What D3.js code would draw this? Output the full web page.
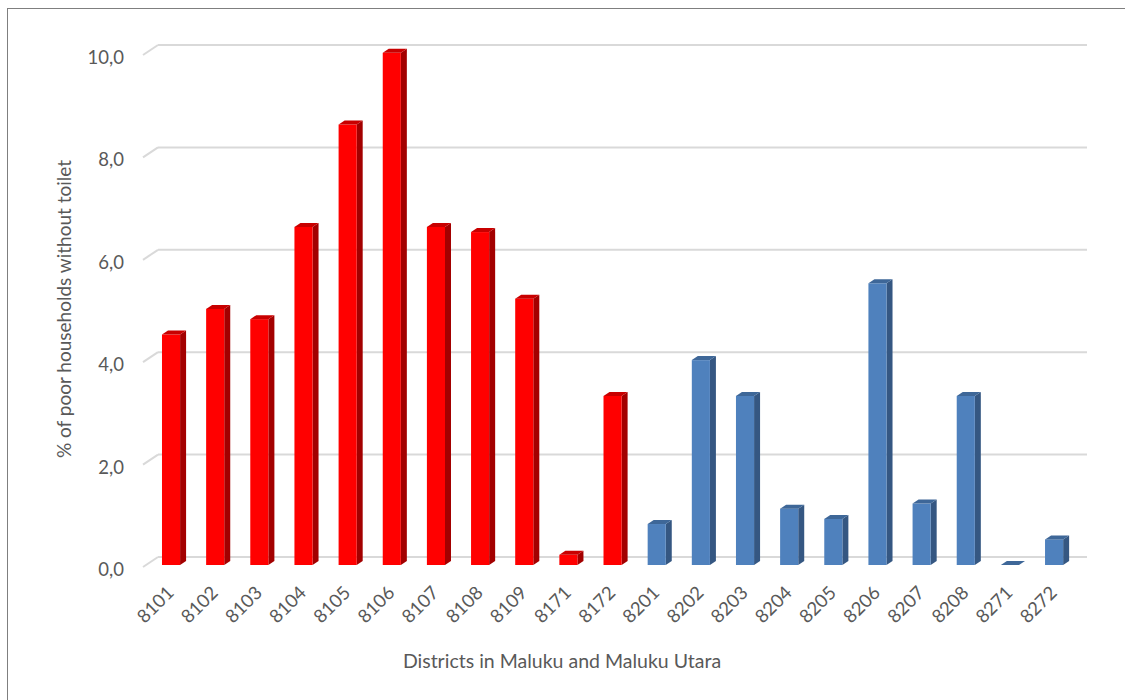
<!DOCTYPE html>
<html>
<head>
<meta charset="utf-8">
<script src="https://cdn.jsdelivr.net/npm/d3@7"></script>
<style>
  html, body { margin: 0; padding: 0; background: #fff; }
  svg { display: block; }
  text { font-family: Lato, "Open Sans", sans-serif; fill: #595959; }
</style>
</head>
<body>
<svg id="chart" width="1125" height="700"></svg>
<script>
// District codes (Maluku = 81xx, Maluku Utara = 82xx)
const districts = ["8101","8102","8103","8104","8105","8106","8107","8108","8109","8171","8172",
                   "8201","8202","8203","8204","8205","8206","8207","8208","8271","8272"];
// Share of poor households without a toilet (%)
const pctNoToilet = [4.5, 5.0, 4.8, 6.6, 8.6, 10.0, 6.6, 6.5, 5.2, 0.2, 3.3,
                     0.8, 4.0, 3.3, 1.1, 0.9, 5.5, 1.2, 3.3, 0.0, 0.5];
const yTicks = [0, 2, 4, 6, 8, 10];
const yTitle = "% of poor households without toilet";
const xTitle = "Districts in Maluku and Maluku Utara";

const svg = d3.select("#chart");

// frame lines (left and top edges)
svg.append("line").attr("x1", 7.5).attr("y1", 8).attr("x2", 7.5).attr("y2", 700)
  .attr("stroke", "#7f7f7f").attr("stroke-width", 1);
svg.append("line").attr("x1", 7).attr("y1", 8.5).attr("x2", 1125).attr("y2", 8.5)
  .attr("stroke", "#7f7f7f").attr("stroke-width", 1);

// pseudo-3D geometry
const wallDx = 15, wallDy = -10;      // depth of the back wall
const barDx = 6, barDy = -4;          // depth of each bar

const x = d3.scaleBand().domain(districts).range([143, 1070.2]).padding(0);
const yGrid = d3.scaleLinear().domain([0, 10]).range([567, 55]);   // front edge of the walls
const yBar = d3.scaleLinear().domain([0, 10]).range([565, 52.8]);  // bar front faces

// gridlines on back wall with side-wall diagonals
const grid = svg.append("g");
yTicks.forEach(t => {
  const yf = yGrid(t), yb = yf + wallDy;
  grid.append("line").attr("x1", x.range()[0]).attr("y1", yf)
    .attr("x2", x.range()[0] + wallDx).attr("y2", yb)
    .attr("stroke", "#d9d9d9").attr("stroke-width", 2);
  grid.append("line").attr("x1", x.range()[0] + wallDx).attr("y1", yb)
    .attr("x2", 1087).attr("y2", yb)
    .attr("stroke", "#d9d9d9").attr("stroke-width", 2);
});

// y tick labels
svg.append("g").selectAll("text").data(yTicks).join("text")
  .attr("x", 124).attr("y", d => yGrid(d) + 2)
  .attr("text-anchor", "end").attr("dominant-baseline", "central")
  .style("font-size", "18.5px")
  .text(d => d3.format(".1f")(d).replace(".", ","));

// bars
const palette = {
  "81": { front: "#ff0000", side: "#a30000", top: "#c80000" },
  "82": { front: "#4f81bd", side: "#355782", top: "#3e6798" }
};
const bw = x.bandwidth();
const barOff = bw * 0.43, barW = bw * 0.41;

const bars = svg.append("g").selectAll("g").data(districts.map((d, i) => ({ d, v: pctNoToilet[i] })))
  .join("g");

bars.each(function(p) {
  const g = d3.select(this);
  const c = palette[p.d.slice(0, 2)];
  const x0 = x(p.d) + barOff, x1 = x0 + barW;
  const y0 = yBar(0), y1 = yBar(p.v);
  // side face
  g.append("path")
    .attr("d", `M${x1},${y0}L${x1 + barDx},${y0 + barDy}L${x1 + barDx},${y1 + barDy}L${x1},${y1}Z`)
    .attr("fill", c.side);
  // front face
  g.append("rect").attr("x", x0).attr("y", y1).attr("width", barW).attr("height", y0 - y1)
    .attr("fill", c.front);
  // top face
  g.append("path")
    .attr("d", `M${x0},${y1}L${x0 + barDx},${y1 + barDy}L${x1 + barDx},${y1 + barDy}L${x1},${y1}Z`)
    .attr("fill", c.top);
});

// x tick labels, rotated
svg.append("g").selectAll("text").data(districts).join("text")
  .attr("transform", d => `translate(${x(d) + barOff + barW / 2 - 1},${589}) rotate(-45)`)
  .attr("text-anchor", "end").attr("dominant-baseline", "central")
  .style("font-size", "18.5px")
  .text(d => d);

// axis titles
svg.append("text")
  .attr("transform", `translate(63,309) rotate(-90)`)
  .attr("text-anchor", "middle").attr("dominant-baseline", "central")
  .style("font-size", "19px")
  .text(yTitle);

svg.append("text")
  .attr("x", 562).attr("y", 660)
  .attr("text-anchor", "middle").attr("dominant-baseline", "central")
  .style("font-size", "19.5px")
  .text(xTitle);
</script>
</body>
</html>
